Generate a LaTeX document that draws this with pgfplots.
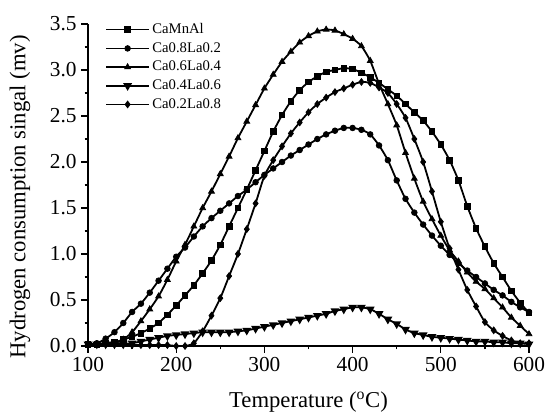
\documentclass[border=0pt]{standalone}
\usepackage{fontspec}
\setmainfont{Liberation Serif}
\usepackage{pgfplots}
\usepackage{pgfplotstable}
\pgfplotsset{compat=1.18}

% T, CaMnAl, Ca0.8La0.2, Ca0.6La0.4, Ca0.4La0.6, Ca0.2La0.8
\pgfplotstableread{
T   a    b    c    d    e
100 0.02 0.02 0.02 0.02 0.02
110 0.02 0.03 0.02 0.02 0.02
120 0.03 0.08 0.02 0.02 0.02
130 0.04 0.15 0.03 0.02 0.02
140 0.07 0.25 0.07 0.02 0.02
150 0.10 0.37 0.15 0.03 0.01
160 0.14 0.46 0.27 0.05 0.01
170 0.19 0.58 0.40 0.07 0.01
180 0.25 0.71 0.54 0.09 0.01
190 0.34 0.84 0.72 0.11 0.01
200 0.44 0.97 0.92 0.12 0.00
210 0.55 1.07 1.10 0.13 0.00
220 0.66 1.19 1.30 0.14 0.03
230 0.79 1.30 1.50 0.15 0.16
240 0.93 1.39 1.68 0.15 0.33
250 1.10 1.47 1.87 0.15 0.52
260 1.30 1.55 2.06 0.15 0.76
270 1.50 1.63 2.26 0.16 1.00
280 1.70 1.70 2.44 0.17 1.27
290 1.91 1.78 2.62 0.19 1.55
300 2.12 1.86 2.80 0.21 1.85
310 2.33 1.93 2.95 0.23 2.02
320 2.51 2.00 3.09 0.25 2.17
330 2.66 2.07 3.20 0.27 2.31
340 2.78 2.13 3.30 0.29 2.43
350 2.87 2.19 3.37 0.31 2.54
360 2.93 2.25 3.42 0.33 2.63
370 2.98 2.30 3.44 0.35 2.70
380 3.00 2.34 3.43 0.38 2.76
390 3.02 2.37 3.39 0.40 2.80
400 3.01 2.37 3.34 0.42 2.84
410 2.97 2.35 3.26 0.42 2.87
420 2.92 2.30 3.10 0.40 2.86
430 2.86 2.18 2.85 0.35 2.81
440 2.79 2.02 2.63 0.29 2.75
450 2.72 1.80 2.40 0.24 2.63
460 2.63 1.60 2.10 0.18 2.48
470 2.54 1.45 1.82 0.14 2.25
480 2.45 1.32 1.57 0.12 2.00
490 2.33 1.20 1.38 0.10 1.68
500 2.19 1.09 1.20 0.09 1.35
510 2.02 0.99 1.04 0.08 1.06
520 1.80 0.90 0.92 0.07 0.83
530 1.52 0.82 0.80 0.06 0.61
540 1.28 0.75 0.70 0.05 0.43
550 1.08 0.68 0.62 0.05 0.26
560 0.90 0.61 0.52 0.04 0.17
570 0.75 0.55 0.42 0.04 0.11
580 0.60 0.48 0.31 0.03 0.06
590 0.47 0.42 0.22 0.03 0.03
600 0.36 0.37 0.13 0.02 0.03
}\tpr

\begin{document}
\begin{tikzpicture}
\path[use as bounding box] (-66pt,-52.5pt) rectangle (346.5pt,259.5pt);
\begin{axis}[
    at={(0,0)}, anchor=south west,
    scale only axis,
    width=330.75pt, height=241.5pt,
    xmin=100, xmax=600,
    ymin=0, ymax=3.5,
    xtick={100,200,...,600},
    ytick={0,0.5,...,3.5},
    minor x tick num=1,
    minor y tick num=1,
    axis x line*=bottom,
    axis y line*=left,
    axis line style={line width=1pt},
    tick align=outside,
    major tick length=5pt,
    minor tick length=2.6pt,
    every tick/.style={black, line width=0.9pt},
    /pgf/number format/assume math mode=true,
    /pgf/number format/fixed,
    /pgf/number format/fixed zerofill,
    /pgf/number format/precision=1,
    xticklabel={\pgfmathprintnumber[precision=0,fixed zerofill=false]{\tick}},
    tick label style={font=\fontsize{16}{19}\selectfont},
    xlabel={Temperature ($^{\mathrm{o}}$C)},
    ylabel={Hydrogen consumption singal (mv)},
    label style={font=\fontsize{17}{20}\selectfont},
    xlabel style={at={(axis description cs:0.5,-0.174)}, anchor=center},
    ylabel style={at={(axis description cs:-0.154,0.463)}, anchor=center},
    legend style={at={(axis description cs:0.036,1.015)}, anchor=north west,
        draw=none, fill=none, font=\fontsize{11}{13}\selectfont,
        row sep=1.2pt, inner sep=1pt},
    legend cell align=left,
    legend image code/.code={%
        \draw[mark repeat=2,mark phase=2] plot coordinates {(0cm,0cm) (0.56cm,0cm) (1.12cm,0cm)};},
    every axis plot/.append style={black, line width=1.35pt, smooth, tension=0.4,
        mark size=2.1pt, mark options={solid, line width=0.6pt}},
]
\addplot[mark=square*] table[x=T, y=a] {\tpr};
\addlegendentry{CaMnAl}
\addplot[mark=*] table[x=T, y=b] {\tpr};
\addlegendentry{Ca0.8La0.2}
\addplot[mark=triangle*, mark size=2.5pt] table[x=T, y=c] {\tpr};
\addlegendentry{Ca0.6La0.4}
\addplot[mark=triangle*, mark size=2.5pt, mark options={rotate=180}] table[x=T, y=d] {\tpr};
\addlegendentry{Ca0.4La0.6}
\addplot[mark=diamond*, mark size=2.5pt] table[x=T, y=e] {\tpr};
\addlegendentry{Ca0.2La0.8}
\end{axis}
\end{tikzpicture}
\end{document}
